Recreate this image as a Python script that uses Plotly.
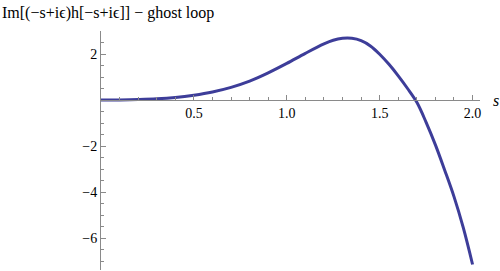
import plotly.graph_objects as go
import numpy as np

s_vals = [0, 0.1, 0.2, 0.3, 0.4, 0.5, 0.6, 0.7, 0.8, 0.9, 1.0, 1.1, 1.2, 1.25, 1.3, 1.35,
          1.4, 1.45, 1.5, 1.55, 1.6, 1.65, 1.7, 1.75, 1.8, 1.85, 1.9, 1.95, 2.0]
im_vals = [0, 0.003, 0.02, 0.05, 0.11, 0.21, 0.35, 0.55, 0.82, 1.18, 1.59, 2.03, 2.44, 2.6,
           2.68, 2.68, 2.58, 2.35, 1.99, 1.55, 1.05, 0.5, -0.1, -0.97, -1.95, -3.05, -4.2,
           -5.55, -7.15]

x_tickvals = [0.5, 1.0, 1.5, 2.0]
x_ticktext = ["0.5", "1.0", "1.5", "2.0"]
y_tickvals = [-6, -4, -2, 2]
y_ticktext = ["\u22126", "\u22124", "\u22122", "2"]

title_text = "Im[(\u2212s+i\u03f5)h[\u2212s+i\u03f5]] \u2212 ghost loop"
x_label = "s"

xr = [0, 2.04]
yr = [-7.39, 3.0]

fig = go.Figure()
fig.add_trace(go.Scatter(x=s_vals, y=im_vals, mode="lines",
                         line=dict(color="#3d3d99", width=3, shape="spline", smoothing=1.0),
                         hoverinfo="skip"))

fam = "Liberation Serif, Times New Roman, serif"
font = dict(family=fam, size=14, color="black")
tfont = dict(family=fam, size=16, color="black")
axcol = "#8a8a8a"
fig.update_layout(
    width=500, height=271,
    margin=dict(l=101, r=20, t=31, b=1),
    paper_bgcolor="white", plot_bgcolor="white",
    showlegend=False,
    font=font,
    xaxis=dict(range=xr, showgrid=False, zeroline=False, showline=True, linecolor=axcol,
               linewidth=1, anchor="free", position=(0 - yr[0]) / (yr[1] - yr[0]),
               ticks="inside", ticklen=5, tickcolor=axcol, tickmode="array",
               tickvals=x_tickvals, ticktext=x_ticktext, tickfont=font,
               minor=dict(ticks="inside", ticklen=3, tickcolor=axcol,
                          tickmode="array", tickvals=list(np.round(np.arange(0.1, 2.04, 0.1), 2)))),
    yaxis=dict(range=yr, showgrid=False, zeroline=False, showline=True, linecolor=axcol,
               linewidth=1, ticks="inside", ticklen=5, tickcolor=axcol, tickmode="array",
               tickvals=y_tickvals, ticktext=y_ticktext, tickfont=font,
               minor=dict(ticks="inside", ticklen=3, tickcolor=axcol,
                          tickmode="array", tickvals=list(np.arange(-7.0, 3.01, 0.5)))),
    annotations=[
        dict(text=title_text, xref="paper", yref="paper", x=-101/379, y=1.0, yshift=18,
             xanchor="left", yanchor="middle", showarrow=False, font=tfont),
        dict(text="<i>" + x_label + "</i>", xref="paper", yref="y", x=1.0, y=0, xshift=16,
             xanchor="center", yanchor="middle", showarrow=False, font=tfont),
    ],
)
fig.write_html("out.html")
